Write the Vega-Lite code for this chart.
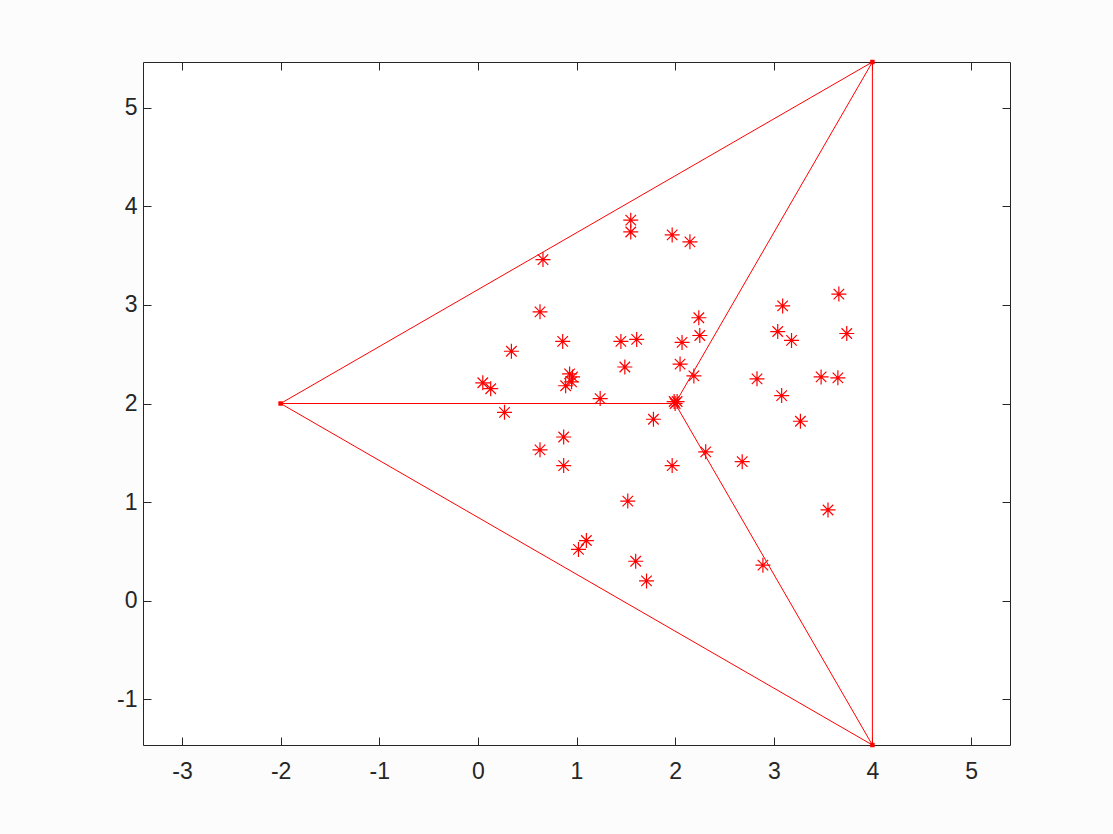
{
  "$schema": "https://vega.github.io/schema/vega-lite/v6.json",
  "width": 867,
  "height": 683,
  "autosize": "none",
  "padding": {"left": 143, "top": 62, "right": 103, "bottom": 89},
  "background": "#fcfcfc",
  "config": {
    "view": {"fill": "white", "stroke": null},
    "axis": {
      "grid": false,
      "domainColor": "#262626",
      "domainWidth": 1,
      "tickColor": "#262626",
      "tickWidth": 1,
      "tickSize": -8,
      "labelColor": "#262626",
      "labelFont": "Liberation Sans",
      "labelFontSize": 23,
      "labelExpr": "datum.value < 0 ? '-' + abs(datum.value) : '' + datum.value",
      "title": null
    }
  },
  "datasets": {
    "edges": [
      {"x1": -2, "y1": 2, "x2": 4, "y2": 5.4641},
      {"x1": 4, "y1": 5.4641, "x2": 4, "y2": -1.4641},
      {"x1": 4, "y1": -1.4641, "x2": -2, "y2": 2},
      {"x1": 2, "y1": 2, "x2": -2, "y2": 2},
      {"x1": 2, "y1": 2, "x2": 4, "y2": 5.4641},
      {"x1": 2, "y1": 2, "x2": 4, "y2": -1.4641}
    ],
    "verts": [
      {"x": -2, "y": 2},
      {"x": 4, "y": 5.4641},
      {"x": 4, "y": -1.4641}
    ],
    "pts": [
      {"x": 0.05, "y": 2.21}, {"x": 0.13, "y": 2.15}, {"x": 0.27, "y": 1.91}, {"x": 0.34, "y": 2.53},
      {"x": 0.66, "y": 3.46}, {"x": 0.63, "y": 2.93}, {"x": 0.63, "y": 1.53}, {"x": 0.86, "y": 2.63},
      {"x": 0.87, "y": 1.66}, {"x": 0.87, "y": 1.37}, {"x": 0.93, "y": 2.30}, {"x": 0.96, "y": 2.27},
      {"x": 0.89, "y": 2.18}, {"x": 0.95, "y": 2.22}, {"x": 1.24, "y": 2.05}, {"x": 1.45, "y": 2.63},
      {"x": 1.61, "y": 2.65}, {"x": 1.49, "y": 2.37}, {"x": 1.55, "y": 3.86}, {"x": 1.55, "y": 3.74},
      {"x": 1.97, "y": 3.71}, {"x": 2.15, "y": 3.64}, {"x": 2.24, "y": 2.87}, {"x": 2.25, "y": 2.69},
      {"x": 2.07, "y": 2.62}, {"x": 2.05, "y": 2.40}, {"x": 2.19, "y": 2.28}, {"x": 1.99, "y": 2.02},
      {"x": 2.02, "y": 2.02}, {"x": 2.0, "y": 2.0}, {"x": 1.78, "y": 1.84}, {"x": 1.97, "y": 1.37},
      {"x": 2.31, "y": 1.51}, {"x": 2.68, "y": 1.41}, {"x": 1.52, "y": 1.01}, {"x": 1.10, "y": 0.61},
      {"x": 1.02, "y": 0.52}, {"x": 1.60, "y": 0.40}, {"x": 1.71, "y": 0.20}, {"x": 2.89, "y": 0.36},
      {"x": 3.55, "y": 0.92}, {"x": 2.83, "y": 2.25}, {"x": 3.09, "y": 2.99}, {"x": 3.04, "y": 2.73},
      {"x": 3.18, "y": 2.64}, {"x": 3.08, "y": 2.08}, {"x": 3.27, "y": 1.82}, {"x": 3.48, "y": 2.27},
      {"x": 3.65, "y": 2.26}, {"x": 3.66, "y": 3.11}, {"x": 3.74, "y": 2.71}
    ]
  },
  "layer": [
    {
      "data": {"name": "edges"},
      "mark": {"type": "rule", "color": "#ff0000", "strokeWidth": 1},
      "encoding": {
        "x": {"field": "x1", "type": "quantitative",
              "scale": {"domain": [-3.395, 5.395], "nice": false, "zero": false},
              "axis": {"orient": "bottom", "values": [-3, -2, -1, 0, 1, 2, 3, 4, 5], "labelPadding": 23}},
        "y": {"field": "y1", "type": "quantitative",
              "scale": {"domain": [-1.4641, 5.4641], "nice": false, "zero": false},
              "axis": {"orient": "left", "values": [-1, 0, 1, 2, 3, 4, 5], "labelPadding": 14}},
        "x2": {"field": "x2"},
        "y2": {"field": "y2"}
      }
    },
    {
      "data": {"name": "verts"},
      "mark": {"type": "point", "shape": "square", "filled": true, "color": "#ff0000", "size": 20, "opacity": 1},
      "encoding": {
        "x": {"field": "x", "type": "quantitative",
              "axis": {"orient": "top", "values": [-3, -2, -1, 0, 1, 2, 3, 4, 5], "labels": false}},
        "y": {"field": "y", "type": "quantitative",
              "axis": {"orient": "right", "values": [-1, 0, 1, 2, 3, 4, 5], "labels": false}}
      }
    },
    {
      "data": {"name": "pts"},
      "mark": {"type": "point", "shape": "M-1,0L1,0M0,-1L0,1M-0.7,-0.7L0.7,0.7M-0.7,0.7L0.7,-0.7",
               "filled": false, "color": "#ff0000", "size": 225, "strokeWidth": 1.2, "opacity": 1},
      "encoding": {
        "x": {"field": "x", "type": "quantitative", "axis": null},
        "y": {"field": "y", "type": "quantitative", "axis": null}
      }
    }
  ],
  "resolve": {"axis": {"x": "independent", "y": "independent"}}
}
